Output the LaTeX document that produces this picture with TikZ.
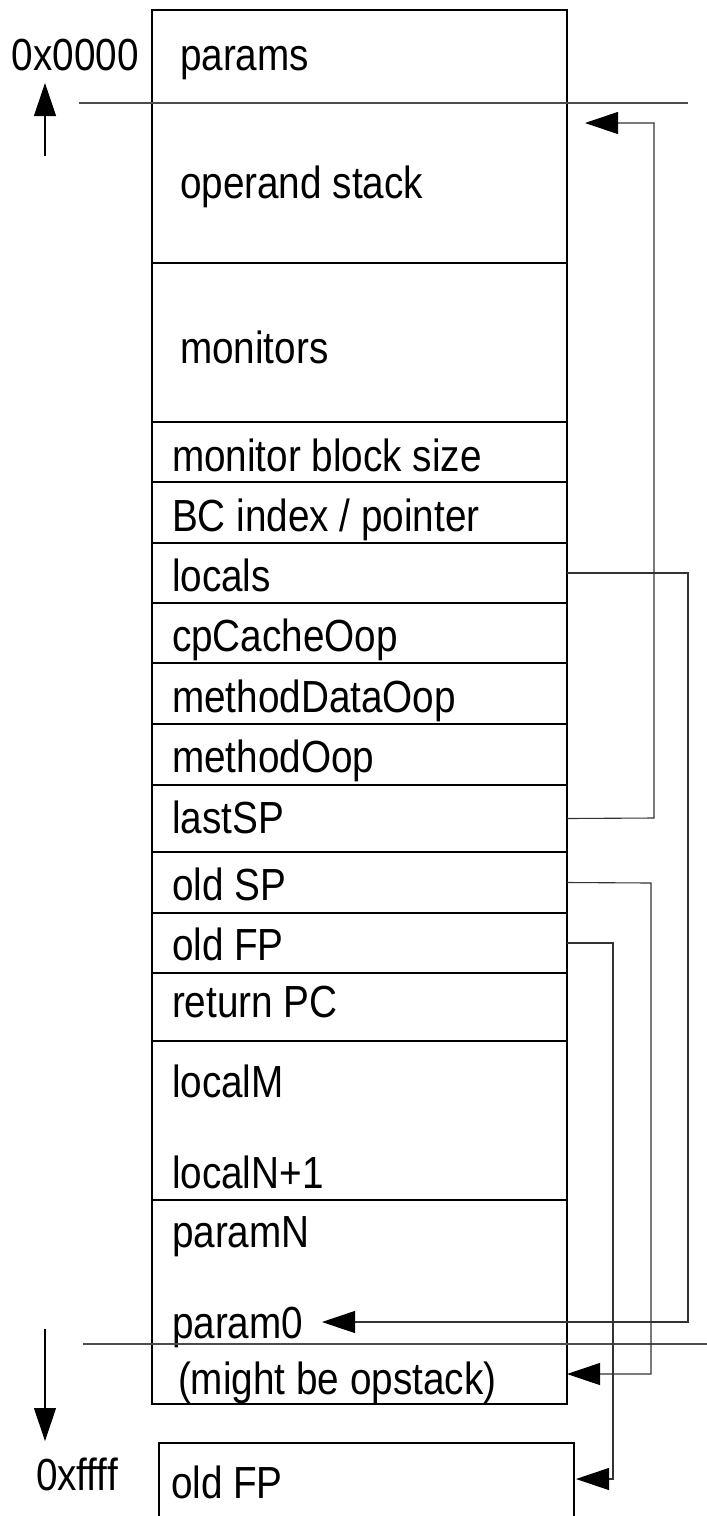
\documentclass[tikz,border=0pt]{standalone}
\usepackage{fontspec}
\setmainfont[FakeStretch=0.86]{Liberation Sans}
\usetikzlibrary{arrows.meta}
\begin{document}
\begin{tikzpicture}[x=1pt,y=-1pt,
  cell/.style={draw, line width=1.2pt, minimum width=415pt, anchor=north west, inner sep=0pt, outer sep=0pt},
  lbl/.style={anchor=base west, inner sep=0pt, outer sep=0pt, font=\fontsize{45pt}{53pt}\selectfont},
  sep/.style={line width=1.1pt, draw=black!70},
  link/.style={line width=1.1pt, draw=black!80},
  tip/.style={-{Triangle[length=33pt,width=22pt,color=black]}}
]
\useasboundingbox (0,0) rectangle (707,1516);
\clip (0,0) rectangle (707,1516);

% stack cells
\foreach \nm/\tp/\ht in {params/10/93, opstack/103/160, monitors/263/159, mbs/422/60,
  bci/482/61, locals/543/60, cpc/603/60, mdo/663/61, mo/724/61, lastsp/785/67,
  oldsp/852/61, oldfp/913/60, retpc/973/68, localm/1041/159, paramn/1200/144, might/1344/60}
  \node[cell, minimum height=\ht pt] (\nm) at (152,\tp) {};

% caller frame box (continues below the page)
\node[cell, minimum width=415pt, minimum height=120pt] (callerfp) at (159,1443) {};

% texts
\node[lbl] (tparams) at (180,70) {params};
\node[lbl] (topstack) at (180,198) {operand stack};
\node[lbl] (tmonitors) at (180,363) {monitors};
\node[lbl] (tmbs) at (172,471) {monitor block size};
\node[lbl] (tbci) at (172,531) {BC index / pointer};
\node[lbl] (tlocals) at (172,591) {locals};
\node[lbl] (tcpc) at (172,651) {cpCacheOop};
\node[lbl] (tmdo) at (172,712) {methodDataOop};
\node[lbl] (tmo) at (172,772) {methodOop};
\node[lbl] (tlastsp) at (172,833) {lastSP};
\node[lbl] (toldsp) at (172,900) {old SP};
\node[lbl] (toldfp) at (172,960) {old FP};
\node[lbl] (tretpc) at (172,1017) {return PC};
\node[lbl] (tlocalm) at (172,1097) {localM};
\node[lbl] (tlocaln) at (172,1188) {localN+1};
\node[lbl] (tparamn) at (172,1247) {paramN};
\node[lbl] (tparam0) at (172,1338) {param0};
\node[lbl] (tmight) at (178,1394) {(might be opstack)};
\node[lbl] (tcallerfp) at (171,1498) {old FP};
\node[lbl] (taddrlo) at (12,70) {0x0000};
\node[lbl] (taddrhi) at (36,1490) {0xffff};

% frame boundary lines
\draw[sep] (79,103) -- (688,103);
\draw[sep] (83,1344) -- (707,1344);

% address direction arrows
\coordinate (uplo) at (45,156);
\coordinate (uphi) at (45,83);
\coordinate (dnlo) at (45,1329);
\coordinate (dnhi) at (45,1441);
\draw[link, draw=black, tip] (uplo) -- (uphi);
\draw[link, draw=black, tip] (dnlo) -- (dnhi);

% pointer targets
\coordinate (topTarget) at (585,123);
\coordinate (p0Target) at (322,1322);
\coordinate (fpTarget) at (576,1479);

% connectors
\draw[link, tip] (lastsp.east) -- (654,818) -- (654,123) -- (topTarget);
\draw[link, tip] (locals.east) -- (688,573) -- (688,1322) -- (p0Target);
\draw[link, tip] (oldsp.east) -- (651,883) -- (651,1374) -- (might.east);
\draw[link, tip] (oldfp.east) -- (613,943) -- (613,1479) -- (fpTarget);
\end{tikzpicture}
\end{document}
